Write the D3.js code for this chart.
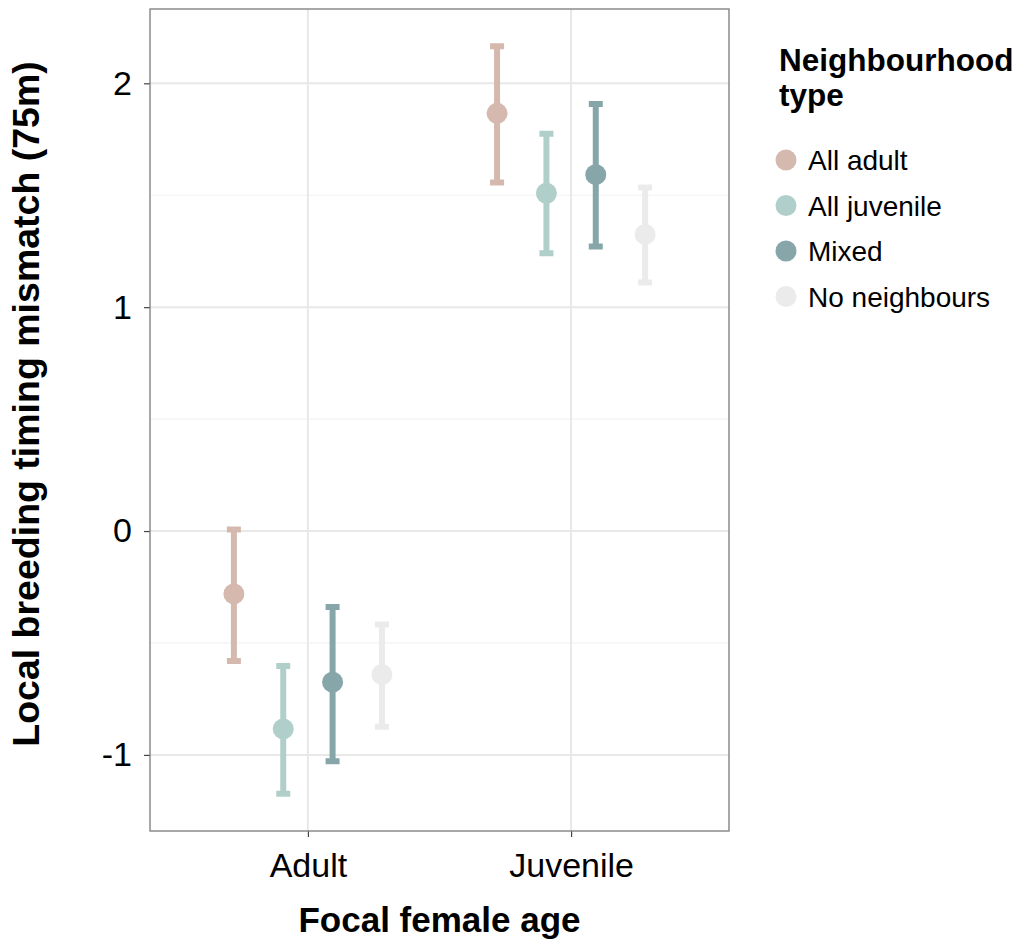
<!DOCTYPE html>
<html>
<head>
<meta charset="utf-8">
<script src="https://cdn.jsdelivr.net/npm/d3@7/dist/d3.min.js"></script>
<style>
  html, body { margin: 0; padding: 0; background: #fff; }
  svg { display: block; font-family: "Liberation Sans", Arial, sans-serif; }
</style>
</head>
<body>
<svg id="chart" width="1022" height="945"></svg>
<script>
// Focal female age categories (x axis)
const focalAges = ["Adult", "Juvenile"];
// Neighbourhood types (dodged groups / legend)
const neighbourhoods = ["All adult", "All juvenile", "Mixed", "No neighbours"];
const neighbourColors = ["#d5b9ae", "#b1cfca", "#86a6a9", "#ebebeb"];

// Estimated local breeding timing mismatch, one array per neighbourhood type,
// in the order of focalAges
const estAllAdult     = [-0.281, 1.866];
const estAllJuvenile  = [-0.884, 1.509];
const estMixed        = [-0.675, 1.592];
const estNoNeighbours = [-0.641, 1.325];

// Lower and upper interval bounds
const lowAllAdult     = [-0.580, 1.557];
const highAllAdult    = [ 0.007, 2.165];
const lowAllJuvenile  = [-1.173, 1.241];
const highAllJuvenile = [-0.603, 1.775];
const lowMixed        = [-1.028, 1.271];
const highMixed       = [-0.339, 1.908];
const lowNoNeighbours = [-0.874, 1.110];
const highNoNeighbours= [-0.417, 1.534];

const yTicks = [-1, 0, 1, 2];
const yTickLabels = ["-1", "0", "1", "2"];
const yMinorTicks = [-0.5, 0.5, 1.5];

const series = [
  { name: neighbourhoods[0], est: estAllAdult,     lo: lowAllAdult,     hi: highAllAdult },
  { name: neighbourhoods[1], est: estAllJuvenile,  lo: lowAllJuvenile,  hi: highAllJuvenile },
  { name: neighbourhoods[2], est: estMixed,        lo: lowMixed,        hi: highMixed },
  { name: neighbourhoods[3], est: estNoNeighbours, lo: lowNoNeighbours, hi: highNoNeighbours }
];

const svg = d3.select("#chart");
const panel = { left: 150, right: 729, top: 9, bottom: 831 };

// Discrete x with ggplot-like 0.6 expansion on each side
const x = d3.scalePoint().domain(focalAges)
  .range([panel.left, panel.right]).padding(0.6);

// y range with 5% expansion around the interval extremes
const allVals = series.flatMap(s => s.lo.concat(s.hi));
const yLo = d3.min(allVals), yHi = d3.max(allVals);
const pad = (yHi - yLo) * 0.05;
const y = d3.scaleLinear().domain([yLo - pad, yHi + pad]).range([panel.bottom, panel.top]);

// Dodge: total width 0.75 of a category step split among groups
const step = x.step();
const dodge = d3.scaleBand().domain(neighbourhoods)
  .range([-0.375 * step, 0.375 * step]);
const dx = name => dodge(name) + dodge.bandwidth() / 2;

const color = d3.scaleOrdinal().domain(neighbourhoods).range(neighbourColors);

// Grid
const grid = svg.append("g");
grid.selectAll("line.minor").data(yMinorTicks).join("line")
  .attr("x1", panel.left).attr("x2", panel.right)
  .attr("y1", d => y(d)).attr("y2", d => y(d))
  .attr("stroke", "#f2f2f2").attr("stroke-width", 1.2);
grid.selectAll("line.major").data(yTicks).join("line")
  .attr("x1", panel.left).attr("x2", panel.right)
  .attr("y1", d => y(d)).attr("y2", d => y(d))
  .attr("stroke", "#e8e8e8").attr("stroke-width", 2);
grid.selectAll("line.vmajor").data(focalAges).join("line")
  .attr("x1", d => x(d)).attr("x2", d => x(d))
  .attr("y1", panel.top).attr("y2", panel.bottom)
  .attr("stroke", "#e8e8e8").attr("stroke-width", 2);

// Axes
const yAxis = svg.append("g")
  .attr("transform", `translate(${panel.left},0)`)
  .call(d3.axisLeft(y).tickValues(yTicks)
    .tickFormat((d, i) => yTickLabels[i]).tickSize(6).tickPadding(12));
const xAxis = svg.append("g")
  .attr("transform", `translate(0,${panel.bottom})`)
  .call(d3.axisBottom(x).tickSize(6).tickPadding(16));
[yAxis, xAxis].forEach(a => {
  a.select(".domain").remove();
  a.selectAll(".tick line").attr("stroke", "#444").attr("stroke-width", 1.2);
  a.selectAll(".tick text").attr("fill", "#000").style("font-size", "34px")
    .style("font-family", "'Liberation Sans', Arial, sans-serif");
});

// Panel border
svg.append("rect")
  .attr("x", panel.left).attr("y", panel.top)
  .attr("width", panel.right - panel.left).attr("height", panel.bottom - panel.top)
  .attr("fill", "none").attr("stroke", "#7a7a7a").attr("stroke-width", 1.3);

// Error bars and points
const capHalf = 7;
const marks = svg.append("g");
series.forEach(s => {
  const g = marks.append("g");
  const rows = focalAges.map((age, i) => ({ age, est: s.est[i], lo: s.lo[i], hi: s.hi[i] }));
  g.selectAll("path.err").data(rows).join("path")
    .attr("d", d => {
      const cx = x(d.age) + dx(s.name);
      return `M${cx - capHalf},${y(d.hi)}H${cx + capHalf}M${cx},${y(d.hi)}V${y(d.lo)}M${cx - capHalf},${y(d.lo)}H${cx + capHalf}`;
    })
    .attr("fill", "none").attr("stroke", color(s.name)).attr("stroke-width", 6);
  g.selectAll("circle").data(rows).join("circle")
    .attr("cx", d => x(d.age) + dx(s.name)).attr("cy", d => y(d.est))
    .attr("r", 10.5).attr("fill", color(s.name));
});

// Axis titles
svg.append("text")
  .attr("x", (panel.left + panel.right) / 2).attr("y", 932)
  .attr("text-anchor", "middle").attr("font-weight", "bold").attr("font-size", 35)
  .text("Focal female age");
svg.append("text")
  .attr("transform", "translate(39,404) rotate(-90)")
  .attr("text-anchor", "middle").attr("font-weight", "bold").attr("font-size", 37.5)
  .text("Local breeding timing mismatch (75m)");

// Legend
const legend = svg.append("g").attr("transform", "translate(779,0)");
legend.append("text").attr("x", 0).attr("y", 71)
  .attr("font-weight", "bold").attr("font-size", 31.5).text("Neighbourhood");
legend.append("text").attr("x", 0).attr("y", 106)
  .attr("font-weight", "bold").attr("font-size", 31.5).text("type");
const items = legend.selectAll("g.item").data(neighbourhoods).join("g")
  .attr("transform", (d, i) => `translate(0,${160 + i * 45.5})`);
items.append("circle").attr("cx", 7).attr("cy", 0).attr("r", 10.5).attr("fill", d => color(d));
items.append("text").attr("x", 29).attr("y", 10).attr("font-size", 28).text(d => d);
</script>
</body>
</html>
